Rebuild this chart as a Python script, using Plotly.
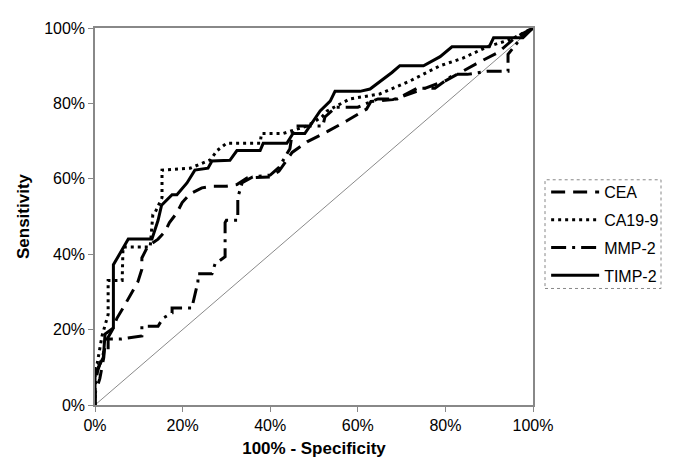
import plotly.graph_objects as go

# ROC curves: x = 100% - Specificity, y = Sensitivity (percent)
cea_x = [0, 0, 1.1, 2.0, 2.3, 4.0, 5.0, 6.4, 9.8, 10.7, 10.7, 12.0, 14.4, 16.0, 17.0, 18.7, 19.9, 21.7, 24.4, 26.7, 30.0, 32.4, 34.7, 40.0, 42.0, 45.0, 48.4, 53.0, 57.5, 62.0, 63.0, 68.0, 73.0, 80.0, 87.0, 92.0, 96.0, 100]
cea_y = [0, 3, 7, 12.6, 16.5, 20, 23, 25.7, 32.7, 36, 39, 42, 44, 46, 48.4, 51, 53.7, 56, 57.6, 58, 58, 58.5, 60.2, 60.5, 62, 67, 69.8, 72.5, 75.4, 78.5, 80.5, 81, 83, 86, 90.5, 93.5, 97.5, 100]

ca199_x = [0, 0, 0.5, 1.6, 3.0, 3.0, 6.2, 6.4, 7.5, 12.6, 13.2, 13.7, 15.3, 15.3, 21.7, 26.3, 27.9, 30.0, 37.7, 38.0, 42.9, 48.4, 51.8, 53.0, 58.2, 65.0, 72.0, 78.8, 84.0, 89.5, 95.0, 100]
ca199_y = [0, 10.5, 11, 18.3, 24, 33, 33, 41.9, 41.9, 41.9, 50.5, 51, 55, 62.3, 62.8, 65, 67.5, 69.4, 69.4, 72, 72, 74, 76.4, 78, 81.2, 82.5, 86, 90, 92, 95, 97, 100]

mmp2_x = [0, 0, 0.6, 1.5, 2.0, 3.0, 3.0, 6.0, 10.7, 10.7, 14.4, 15.5, 17.6, 17.6, 22.1, 23.5, 23.5, 26.7, 27.4, 29.7, 29.7, 30.0, 32.6, 32.6, 33.6, 36.0, 40.0, 42.0, 44.5, 45.0, 46.0, 52.0, 52.5, 55.0, 60.0, 62.0, 64.6, 69.0, 71.0, 73.5, 77.6, 80.0, 82.0, 85.0, 89.5, 94.3, 94.3, 97.7, 100]
mmp2_y = [0, 5, 9, 12, 14, 14.4, 17.5, 17.5, 18.3, 20.9, 20.9, 23, 24.4, 25.7, 25.7, 32.7, 34.8, 34.8, 37.4, 39.3, 48.4, 49, 49, 55, 59, 60.5, 61, 63, 68, 72, 74, 74, 76.4, 79, 79, 80, 81.2, 81.2, 82.5, 84, 84, 86, 87.7, 87.7, 88.5, 88.5, 93, 98, 100]

timp2_x = [0, 0, 0.4, 1.9, 2.3, 4.2, 4.2, 5.3, 7.6, 13.0, 14.4, 15.2, 17.6, 18.7, 21.0, 22.8, 25.8, 26.7, 30.8, 32.4, 37.7, 38.4, 43.8, 45.2, 47.9, 51.4, 53.7, 54.8, 60.5, 62.8, 65.8, 67.8, 69.6, 75.0, 78.8, 81.5, 90.0, 91.0, 97.7, 100]
timp2_y = [0, 9, 9.2, 12.6, 18.8, 20.4, 37.2, 39.3, 44, 44, 49, 53, 55.8, 55.8, 58.9, 62.3, 62.8, 64.7, 64.9, 67.5, 67.5, 69.4, 69.4, 72, 72, 78, 80.6, 83.2, 83.2, 83.8, 86.4, 88.2, 90, 90, 92.4, 95, 95, 97.4, 97.4, 100]

ref_x = [0, 100]
ref_y = [0, 100]

tick_vals = [0, 20, 40, 60, 80, 100]
tick_text = ["0%", "20%", "40%", "60%", "80%", "100%"]

series = [
    ("CEA", cea_x, cea_y, "14px,8px", 3),
    ("CA19-9", ca199_x, ca199_y, "3px,4px", 3),
    ("MMP-2", mmp2_x, mmp2_y, "15px,6px,3px,6px", 3),
    ("TIMP-2", timp2_x, timp2_y, "solid", 3),
]

fig = go.Figure()
fig.add_trace(go.Scatter(x=ref_x, y=ref_y, mode="lines", showlegend=False,
                         line=dict(color="#8a8a8a", width=1), hoverinfo="skip"))
for name, xs, ys, dash, w in series:
    fig.add_trace(go.Scatter(x=xs, y=ys, mode="lines", name=name, legendgroup=name,
                             line=dict(color="black", width=w, dash=dash)))

font_family = "Liberation Sans, Arial, sans-serif"
fig.update_layout(
    width=675, height=475,
    margin=dict(l=87, r=150, t=12, b=78),
    paper_bgcolor="white", plot_bgcolor="white",
    font=dict(family=font_family, size=16, color="black"),
    showlegend=True,
    legend=dict(x=1.03, y=0.61, xanchor="left", yanchor="top",
                bgcolor="rgba(0,0,0,0)", borderwidth=0,
                font=dict(size=16, family=font_family, color="black"),
                itemwidth=48, tracegroupgap=4),
    xaxis=dict(range=[0, 100], tickmode="array", tickvals=tick_vals, ticktext=tick_text,
               showgrid=False, zeroline=False, showline=True, linecolor="#888888",
               linewidth=1.5, mirror=True, ticks="outside", ticklen=5, tickcolor="#888888",
               tickfont=dict(size=16),
               title=dict(text="<b>100% - Specificity</b>", standoff=9,
                          font=dict(size=17, family=font_family))),
    yaxis=dict(range=[0, 100], tickmode="array", tickvals=tick_vals, ticktext=tick_text,
               showgrid=False, zeroline=False, showline=True, linecolor="#888888",
               linewidth=1.5, mirror=True, ticks="outside", ticklen=5, tickcolor="#888888",
               tickfont=dict(size=16),
               title=dict(text="<b>Sensitivity</b>", standoff=10,
                          font=dict(size=17, family=font_family))),
)

# dotted legend frame
fig.add_shape(type="rect", xref="paper", yref="paper",
              x0=(545 - 95) / 438, x1=(661 - 95) / 438,
              y0=(405 - 286) / 385, y1=(405 - 175) / 385,
              line=dict(color="#888888", width=1, dash="dot"))

fig.write_html("out.html")
